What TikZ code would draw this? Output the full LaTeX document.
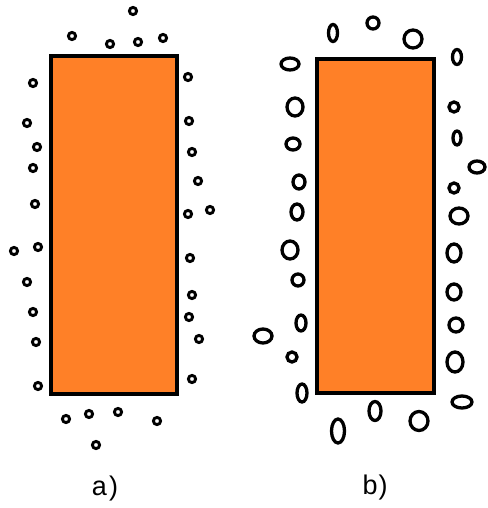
\documentclass[tikz,border=0pt]{standalone}
\usepackage{fontspec}
\setmainfont{Liberation Sans}
\definecolor{boxorange}{RGB}{255,128,39}
\tikzset{
  bar/.style={draw=black, line width=3.4pt, fill=boxorange},
  dota/.style={draw=black, line width=2.9pt},
  dotb/.style={draw=black, line width=3.3pt},
  lbl/.style={font=\fontsize{27}{30}\selectfont, inner sep=0pt}
}
\begin{document}
\begin{tikzpicture}[x=1pt,y=-1pt]
\useasboundingbox (0,0) rectangle (487,508);
% ---- a) ----
\draw[bar] (51,56) rectangle (177,394);
\foreach \p in {(133,11),(72,36),(110,44),(138,42),(163,38),
  (33,83),(27,123),(37,147),(33,168),(35,204),(38,247),(14,251),
  (27,282),(33,312),(36,342),(38,386),
  (188,77),(189,121),(192,152),(198,181),(188,214),(210,210),
  (190,258),(192,295),(189,317),(199,339),(192,379),
  (66,419),(89,414),(118,412),(157,421),(96,445)}
  \draw[dota] \p circle[radius=3.6];
\node[lbl] (la) at (105,489) {a\hspace{2pt})};
% ---- b) ----
\draw[bar] (317,59) rectangle (434,393);
\foreach \x/\y/\rx/\ry in {333/33/4.5/8.5, 373/23/6/6, 413/39/9/9, 457/57/4.5/7.5,
  290/64/9/6, 295/107/8/9, 293/144/7/6, 299/182/6/7, 297/212/6/8, 290/250/8/9,
  298/280/6/6, 301/323/5/8, 263/336/9/7, 292/357/5/5, 302/393/5/9,
  454/107/5/5, 457/138/4/7, 477/167/8/6, 454/188/5/5, 459/216/9/8, 454/253/7/9,
  454/292/7/8, 456/325/7/7, 455/362/8/10, 462/402/10/6,
  338/431/6.5/12, 375/411/6/9.5, 419/421/9/9.5}
  \draw[dotb] (\x,\y) ellipse[x radius=\rx, y radius=\ry];
\node[lbl] (lb) at (375,488) {b\hspace{1pt})};
\end{tikzpicture}
\end{document}
